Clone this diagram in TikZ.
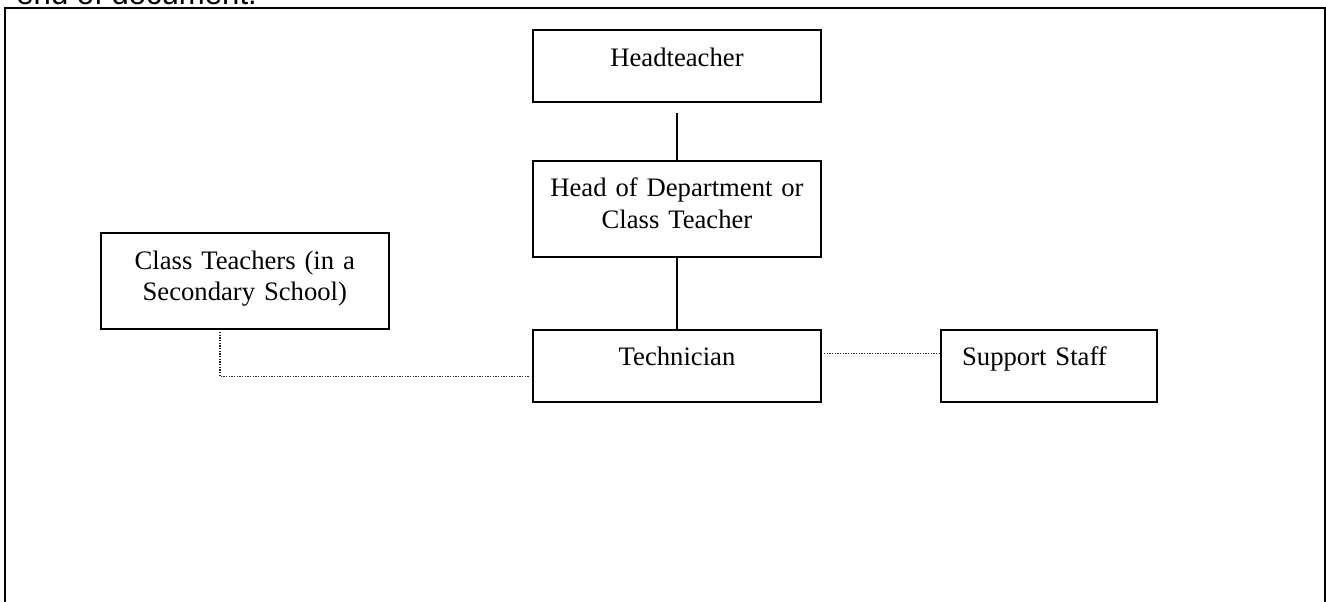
\documentclass[tikz,border=0pt]{standalone}
\usepackage{fontspec}
\setmainfont{Liberation Serif}
\newfontfamily\docfont{Liberation Sans}
\usetikzlibrary{positioning}

\begin{document}
\begin{tikzpicture}[
        x=0.45pt,
        y=-0.45pt,
        box/.style={
            rectangle,
            draw,
            line width=0.75pt,
            outer sep=0pt,
            inner xsep=0pt,
            inner ysep=0pt,
            text width=129.6pt,
            align=center,
            text height=16.2pt,
            text depth=16.2pt,
            font=\fontsize{12pt}{14.2pt}\selectfont
        },
        tallbox/.style={
            box,
            text depth=27pt
        },
        link/.style={
            line width=0.6pt
        },
        dotlink/.style={
            line width=0.65pt,
            draw=black!85,
            dash pattern=on 0.6pt off 0.6pt
        }
    ]
    % Page area and frame
    \useasboundingbox (0,0) rectangle (1326,601);
    \node[anchor=base west, inner sep=0pt, font=\docfont\fontsize{14pt}{16pt}\selectfont] (pagetext) at (16,4.7) {end of document.};
    \draw[line width=1pt] (5,640) -- (5,8) -- (1325,8) -- (1325,640);
    % Staff boxes
    \node[box] (head) at (677,66) {Headteacher};
    \node[tallbox, below=26.4pt of head] (hod) {Head of Department or\\Class Teacher};
    \node[box, below=32.85pt of hod] (tech) {Technician};
    \node[tallbox] (classteachers) at (244.8,281) {Class Teachers (in a\\Secondary School)};
    \node[box, right=54pt of tech, text width=78.2pt, inner xsep=9.5pt, align=left] (support) {Support Staff};
    % Line management
    \draw[link] ([yshift=-4.95pt]head.south) -- (hod.north);
    \draw[link] (hod.south) -- (tech.north);
    % Working links
    \draw[dotlink] ([xshift=53.7pt, yshift=-1.35pt]classteachers.south west) |- ([xshift=-1.35pt, yshift=-4.95pt]tech.west);
    \draw[dotlink] ([xshift=1.35pt, yshift=5.5pt]tech.east) -- ([yshift=5.5pt]support.west);
\end{tikzpicture}
\end{document}
